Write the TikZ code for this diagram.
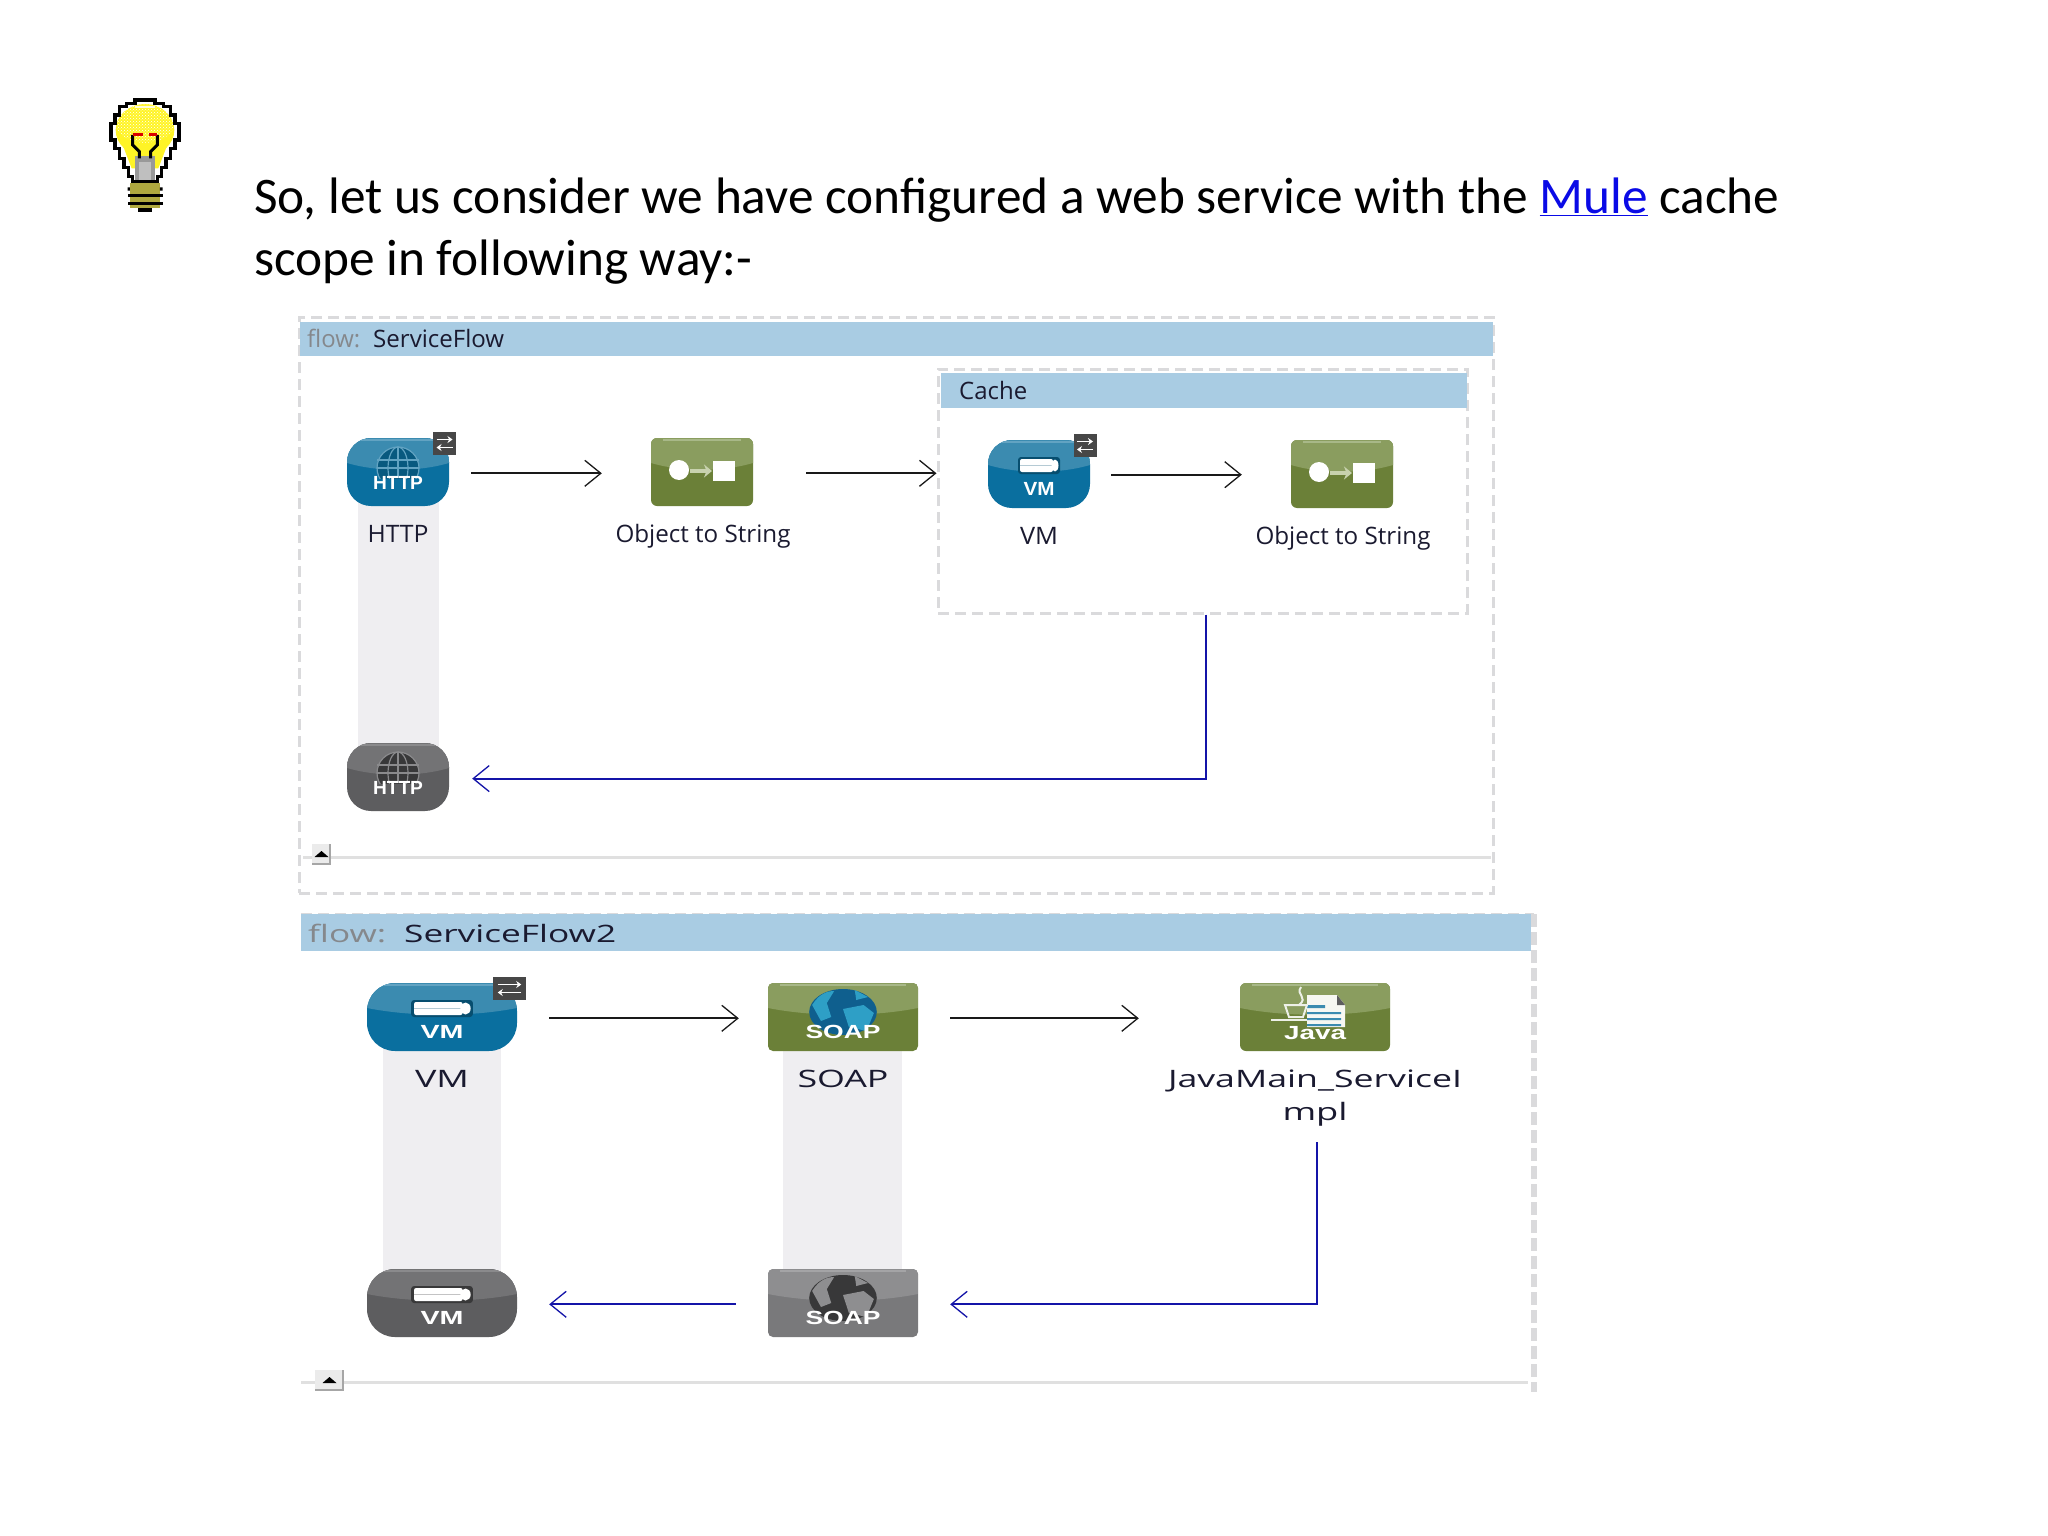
\documentclass[tikz,border=0pt]{standalone}
\usepackage{fontspec}
\setmainfont{Carlito}
\newfontfamily\uif{Open Sans}
\newfontfamily\icf{Liberation Sans}
\usetikzlibrary{arrows.meta,patterns}
\definecolor{hdr}{HTML}{A9CCE3}
\definecolor{dashc}{HTML}{DADADC}
\definecolor{bandc}{HTML}{EFEEF1}
\definecolor{labc}{HTML}{1A1A30}
\definecolor{flowc}{HTML}{85888C}
\definecolor{blueU}{HTML}{3B8BB0}
\definecolor{blueL}{HTML}{0A6F9F}
\definecolor{blueH}{HTML}{62A3C2}
\definecolor{greenU}{HTML}{8A9D5F}
\definecolor{greenL}{HTML}{6B8038}
\definecolor{greenH}{HTML}{A8B888}
\definecolor{darkU}{HTML}{737375}
\definecolor{darkL}{HTML}{5D5D5F}
\definecolor{darkH}{HTML}{8A8A8C}
\definecolor{soapU}{HTML}{8E8E90}
\definecolor{soapL}{HTML}{79797B}
\definecolor{soapH}{HTML}{A4A4A6}
\definecolor{retc}{HTML}{1414A8}
\definecolor{HTMLpale}{HTML}{C8D2AE}
\definecolor{soapdark}{HTML}{0F5F8E}
\definecolor{soaplight}{HTML}{2E9FC6}
\newcommand\fitw[2]{\resizebox{#1pt}{\height}{#2}}
\newcommand\muleicon[7]{%
  \node[icon, minimum width=#3pt, rounded corners=#4pt, fill=#6] (#1) at (#2) {};
  \pgfmathsetmacro\hw{#3/2}
  \begin{scope}[shift={(#1.center)}]
    \clip[rounded corners=#4pt] (-\hw,-34) rectangle (\hw,34);
    \fill[#5] (-\hw,-34) -- (\hw,-34) -- (\hw,-9) .. controls (\hw*0.4,0) and (-\hw*0.4,0) .. (-\hw,-9) -- cycle;
    \fill[#7] (-\hw+12,-33) rectangle (\hw-12,-31);
  \end{scope}}
\newcommand\gGlobe[3]{%
  \begin{scope}
    \clip (-24,-30) rectangle (24,6);
    \fill[#1] (0,-4) circle[radius=21];
    \draw[#2,line width=1.2pt] (0,-4) circle[radius=21];
    \draw[#2,line width=1.2pt] (0,-4) ellipse[x radius=10,y radius=21];
    \draw[#2,line width=1.2pt] (0,-25) -- (0,6) (-21,-12) -- (21,-12) (-21,-4) -- (21,-4);
  \end{scope}
  \node[ictx] at (0,17) {\fitw{#3}{HTTP}};}
\newcommand\gPipe[2]{%
  \fill[#1,rounded corners=3pt] (-21,-17) rectangle (21,0);
  \fill[white,rounded corners=2pt] (-19,-15) rectangle (14,-2);
  \fill[#1!30!white] (-19,-9) rectangle (14,-8);
  \fill[white] (16,-8.5) ellipse[x radius=3.5,y radius=6];
  \node[ictx] at (0,21) {\fitw{#2}{VM}};}
\newcommand\gOS{%
  \fill[white] (-23,-2) circle[radius=10];
  \fill[white] (11,-11) rectangle (33,9);
  \draw[HTMLpale,line width=4pt,-{Stealth[length=8pt,width=13pt]}] (-12,-1) -- (10,-1);}
\newcommand\badge{%
  \fill[black!72] (-11.5,-11.5) rectangle (11.5,11.5);
  \draw[white,line width=1.5pt,-{Stealth[length=5pt,width=7pt]}] (-8,-4) -- (8,-4);
  \draw[white,line width=1.5pt,-{Stealth[length=5pt,width=7pt]}] (8,4) -- (-8,4);}
\newcommand\gSoap[3]{%
  \begin{scope}
    \clip (-24,-30) rectangle (24,18);
    \fill[#1] (0,-5) circle[radius=23];
    \fill[#2] (-21,-12) .. controls (-16,-24) and (-10,-26) .. (-6,-26) -- (-11,-14) -- (-8,0) -- (-15,4) -- cycle;
    \fill[#2] (0,-8) -- (14,-12) -- (21,-4) -- (16,14) -- (4,10) -- cycle;
    \fill[#2] (8,-27) -- (17,-20) -- (9,-17) -- cycle;
  \end{scope}
  \node[ictx] at (0,21) {\fitw{75}{SOAP}};}
\newcommand\slider[2]{%
  \begin{scope}[shift={(#1)}]
    \fill[white!92!black] (0,0) rectangle (#2,21);
    \fill[black] (#2/2-7,13) -- (#2/2,7) -- (#2/2+7,13) -- cycle;
    \fill[gray!70] (0,19) rectangle (#2,21);
    \fill[gray!70] (#2-2,0) rectangle (#2,21);
  \end{scope}}
\tikzset{
  flowbox/.style={draw=dashc,line width=3pt,dash pattern=on 11pt off 6pt,inner sep=0pt},
  hdrbar/.style={fill=hdr,inner sep=0pt},
  icon/.style={inner sep=0pt,minimum height=68pt},
  ictx/.style={inner sep=0pt,anchor=base,text=white,font=\icf\bfseries\fontsize{19}{19}\selectfont},
  lab/.style={inner sep=0pt,anchor=base,text=labc,font=\uif\fontsize{24}{28}\selectfont},
  hlab/.style={inner sep=0pt,anchor=base west,font=\uif\fontsize{24}{28}\selectfont},
  title/.style={inner sep=0pt,anchor=base west,text=black,font=\fontsize{51.3}{60}\selectfont},
  go/.style={draw=black!90,line width=2pt,-{Straight Barb[length=16pt,width=26pt,line width=1.3pt]}},
  ret/.style={draw=retc,line width=2pt,-{Straight Barb[length=16pt,width=26pt,line width=1.3pt]}},
  band/.style={fill=bandc},
  rail/.style={draw=black!12,line width=3pt}
}
\begin{document}
\begin{tikzpicture}[x=1pt,y=-1pt]
\useasboundingbox (0,0) rectangle (2048,1536);
\fill[white] (0,0) rectangle (2048,1536);

% light bulb
\begin{scope}[shift={(80,80)},scale=0.3333]
  \fill[yellow!85!white] (195,150) ellipse[x radius=88,y radius=78];
  \fill[yellow!85!white] (130,200) -- (260,200) -- (235,265) -- (155,265) -- cycle;
  \begin{scope}
    \clip (195,130) ellipse[x radius=88,y radius=58];
    \fill[pattern=crosshatch dots,pattern color=white] (100,60) rectangle (290,190);
  \end{scope}
  \fill[white!85!yellow] (165,78) rectangle (225,85);
  \draw[black,line width=3.3pt,line cap=butt]
    (165,60) -- (225,60) -- (225,70) -- (250,70) -- (250,80) -- (272,80) -- (272,105) -- (285,105) -- (285,130) -- (297,130) -- (297,180) -- (285,180) -- (285,205) -- (272,205) -- (272,235) -- (258,235) -- (258,262) -- (245,262) -- (245,290) -- (232,290) -- (232,305)
    -- (158,305) -- (158,290) -- (145,290) -- (145,262) -- (132,262) -- (132,235) -- (118,235) -- (118,205) -- (105,205) -- (105,180) -- (93,180) -- (93,130) -- (105,130) -- (105,105) -- (118,105) -- (118,80) -- (140,80) -- (140,70) -- (165,70) -- cycle;
  \fill[gray!80] (165,228) rectangle (225,300);
  \fill[gray!50] (177,245) rectangle (213,300);
  \draw[black,line width=3pt] (158,165) -- (158,195) -- (178,215) -- (178,235);
  \draw[black,line width=3pt] (232,165) -- (232,195) -- (212,215) -- (212,235);
  \draw[red!85!black,line width=3pt,dash pattern=on 10pt off 6pt] (158,165) -- (232,165);
  \fill[black!20!yellow!80!black] (150,310) rectangle (240,385);
  \fill[black] (143,342) rectangle (248,352);
  \fill[black] (143,365) rectangle (248,375);
  \fill[black] (143,322) rectangle (150,332) (240,322) rectangle (248,332);
  \fill[black] (175,385) rectangle (215,395);
\end{scope}

% title
\node[title] (t1) at (254,213) {So, let us consider we have configured a web service with the \textcolor[HTML]{0A0AE6}{\underline{Mule}} cache};
\node[title] (t2) at (254,275) {scope in following way:-};

% flow 1
\node[flowbox,minimum width=1194pt,minimum height=576pt] (flow1) at (896,605) {};
\node[hdrbar,minimum width=1193pt,minimum height=34pt] (h1) at (896.5,339) {};
\node[hlab,text=flowc] (h1a) at (307,347) {\fitw{53}{flow:}};
\node[hlab,text=labc] (h1b) at (373,347) {\fitw{131}{ServiceFlow}};
\draw[rail] (303,857) -- (1491,857);
\slider{312,844}{19}

\node[flowbox,minimum width=529pt,minimum height=244pt] (cache) at (1202.5,491) {};
\node[hdrbar,minimum width=526pt,minimum height=35pt] (h2) at (1204,390.5) {};
\node[hlab,text=labc] (h2a) at (959,399) {\fitw{68}{Cache}};

\fill[band] (358,500) rectangle (439,750);

\muleicon{http}{398,472}{102}{24}{blueU}{blueL}{blueH}
\begin{scope}[shift={(http.center)}]\gGlobe{blueL!80!black}{blueH}{50}\end{scope}
\begin{scope}[shift={(444.5,443.5)}]\badge\end{scope}
\node[lab] (httpl) at (398,542) {\fitw{61}{HTTP}};

\muleicon{ots1}{702,472}{102}{6}{greenU}{greenL}{greenH}
\begin{scope}[shift={(ots1.center)}]\gOS\end{scope}
\node[lab] (ots1l) at (703,542) {\fitw{175}{Object to String}};

\muleicon{vm1}{1039,474}{102}{24}{blueU}{blueL}{blueH}
\begin{scope}[shift={(vm1.center)}]\gPipe{blueL!70!black}{31}\end{scope}
\begin{scope}[shift={(1085,445.5)}]\badge\end{scope}
\node[lab] (vm1l) at (1039,544) {\fitw{38}{VM}};

\muleicon{ots2}{1342,474}{102}{6}{greenU}{greenL}{greenH}
\begin{scope}[shift={(ots2.center)}]\gOS\end{scope}
\node[lab] (ots2l) at (1343,544) {\fitw{175}{Object to String}};

\muleicon{httpr}{398,777}{102}{24}{darkU}{darkL}{darkH}
\begin{scope}[shift={(httpr.center)}]\gGlobe{darkL!60!black}{darkH}{50}\end{scope}

\draw[go,shorten <=22pt,shorten >=49pt] ([yshift=-1.3pt]http.east) -- ([yshift=-1.3pt]ots1.west);
\draw[go,shorten <=53pt] ([yshift=-1.3pt]ots1.east) -- ([yshift=-1.3pt]cache.west |- ots1.east);
\draw[go,shorten <=21pt,shorten >=49pt] ([yshift=-0.7pt]vm1.east) -- ([yshift=-0.7pt]ots2.west);
\draw[ret,shorten >=23pt] ([xshift=3.5pt]cache.south) |- ([yshift=-1.6pt]httpr.east);

% flow 2
\draw[dashc,line width=2.5pt,dash pattern=on 11pt off 6pt] (301,914) -- (1534,914);
\draw[dashc,line width=6pt,dash pattern=on 13pt off 5pt] (1534,914) -- (1534,1392);
\node[hdrbar,minimum width=1230pt,minimum height=37pt] (h3) at (916,932.5) {};
\node[hlab,text=flowc] (h3a) at (308,942) {\fitw{78}{flow:}};
\node[hlab,text=labc] (h3b) at (404,942) {\fitw{212}{ServiceFlow2}};
\draw[rail] (301,1382) -- (1528,1382);
\slider{315,1370}{29}

\fill[band] (383,1040) rectangle (501,1280);
\fill[band] (783,1040) rectangle (902,1280);

\muleicon{vm2}{442,1017}{150}{28}{blueU}{blueL}{blueH}
\begin{scope}[shift={(vm2.center)},xscale=1.47]\gPipe{blueL!70!black}{43}\end{scope}
\begin{scope}[shift={(509.5,988.5)},xscale=1.47]\badge\end{scope}
\node[lab] (vm2l) at (442,1087) {\fitw{54}{VM}};

\muleicon{soap2}{843,1017}{150}{5}{greenU}{greenL}{greenH}
\begin{scope}[shift={(soap2.center)},xscale=1.47]\gSoap{soapdark}{soaplight}{75}\end{scope}
\node[lab] (soap2l) at (843,1087) {\fitw{91}{SOAP}};

\muleicon{java}{1315,1017}{150}{6}{greenU}{greenL}{greenH}
\begin{scope}[shift={(java.center)}]
  \fill[white!92!greenU] (-8,-22) -- (22,-22) -- (30,-12) -- (30,10) -- (-8,10) -- cycle;
  \fill[darkL] (22,-22) -- (30,-12) -- (22,-12) -- cycle;
  \fill[blueU] (-8,-12) rectangle (10,-9) (-8,-5) rectangle (26,-3) (-8,1) rectangle (26,3) (-8,7) rectangle (26,9);
  \draw[white!85!greenU,line width=2pt] (-14,-30) .. controls (-20,-22) and (-6,-20) .. (-16,-12);
  \draw[white!85!greenU,line width=2pt] (-30,-12) -- (-8,-12) -- (-12,0) -- (-26,0) -- cycle;
  \draw[white!85!greenU,line width=2pt] (-44,3) -- (-8,3);
  \node[ictx] at (0,22) {\fitw{62}{Java}};
\end{scope}
\node[lab,anchor=center,align=center,minimum height=88.6pt] (javal) at (1315,1097.7) {\fitw{294}{JavaMain\_ServiceI}\\[5pt]\fitw{65}{mpl}};

\muleicon{vmr}{442,1303}{150}{28}{darkU}{darkL}{darkH}
\begin{scope}[shift={(vmr.center)},xscale=1.47]\gPipe{darkL!60!black}{43}\end{scope}

\muleicon{soapr}{843,1303}{150}{5}{soapU}{soapL}{soapH}
\begin{scope}[shift={(soapr.center)},xscale=1.47]\gSoap{darkL!60!black}{soapU}{75}\end{scope}

\draw[go,shorten <=32pt,shorten >=29pt] ([yshift=-1.3pt]vm2.east) -- ([yshift=-1.3pt]soap2.west);
\draw[go,shorten <=32pt,shorten >=101pt] ([yshift=-1.3pt]soap2.east) -- ([yshift=-1.3pt]java.west);
\draw[ret,shorten >=32pt] ([xshift=2pt]javal.south) |- ([yshift=-1.3pt]soapr.east);
\draw[ret,shorten <=32pt,shorten >=32pt] ([yshift=-1.3pt]soapr.west) -- ([yshift=-1.3pt]vmr.east);
\end{tikzpicture}
\end{document}
